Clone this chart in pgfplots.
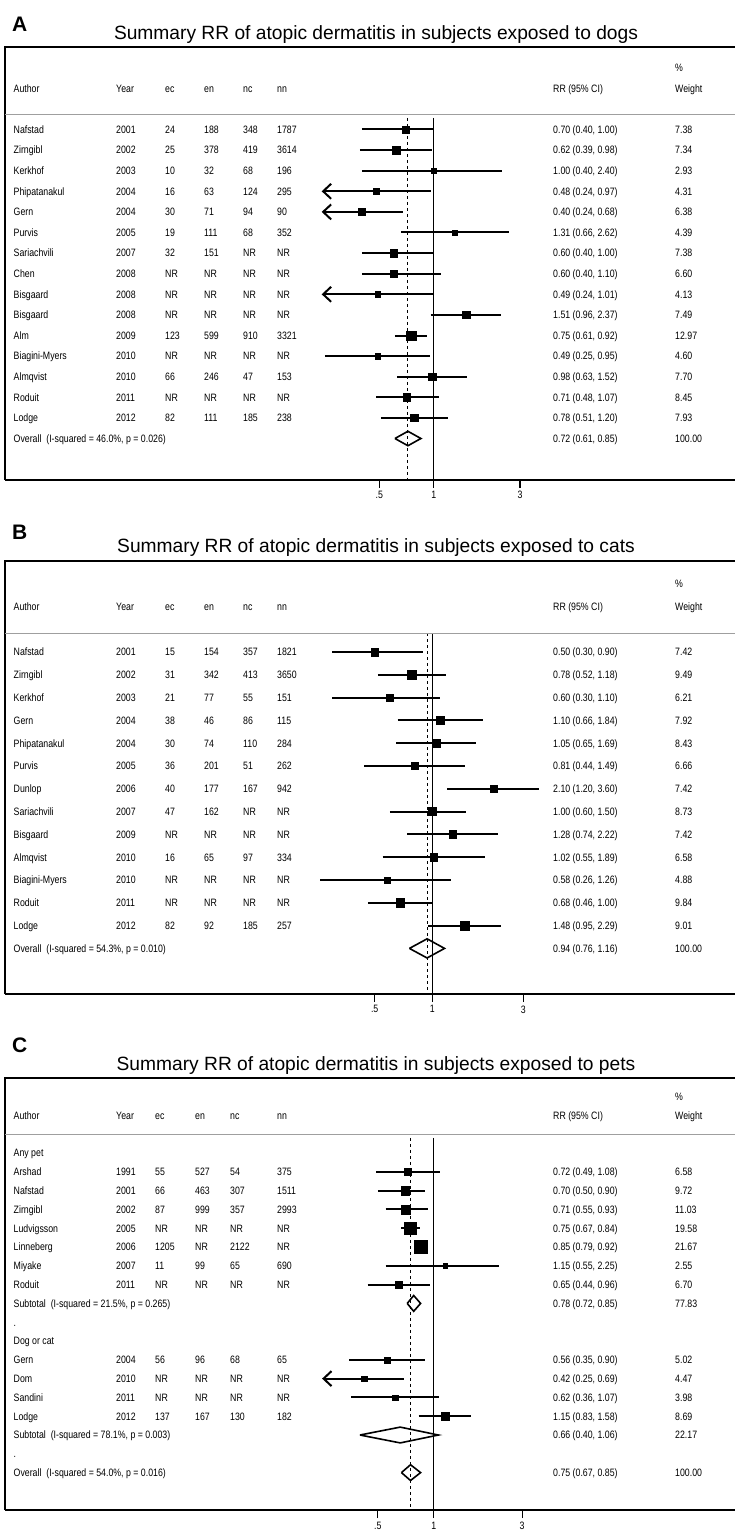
\documentclass[border=0pt]{standalone}
\usepackage{fontspec}
\setmainfont{Liberation Sans}
\newfontfamily\narrow[FakeStretch=0.82]{Liberation Sans}
\usepackage{pgfplots}
\pgfplotsset{compat=1.18}
\usepackage{pgfplotstable}
\usetikzlibrary{arrows.meta}

\newcommand\rowfont{\narrow\fontsize{10.7}{12}\selectfont}
\tikzset{rt/.style={anchor=base west, inner sep=0pt, font=\rowfont}}

\newcommand\setpanel[8]{\def\yf{#1}\def\ys{#2}\def\cA{#3}\def\cY{#4}\def\cEc{#5}\def\cEn{#6}\def\cNc{#7}\def\cNn{#8}}
\newcommand\TR[9]{%
  \pgfmathsetmacro\yyy{-(\yf+(#1)*\ys+3.8)}%
  \node[rt] at (\cA,\yyy) {#2};
  \node[rt] at (\cY,\yyy) {#3};
  \node[rt] at (\cEc,\yyy) {#4};
  \node[rt] at (\cEn,\yyy) {#5};
  \node[rt] at (\cNc,\yyy) {#6};
  \node[rt] at (\cNn,\yyy) {#7};
  \node[rt] at (553,\yyy) {#8};
  \node[rt] at (675,\yyy) {#9};}
\newcommand\Lb[4]{%
  \pgfmathsetmacro\yyy{-(\yf+(#1)*\ys+3.8)}%
  \node[rt] at (\cA,\yyy) {#2};
  \node[rt] at (553,\yyy) {#3};
  \node[rt] at (675,\yyy) {#4};}

% CI segments, arrows and diamonds drawn through the axis
\newcommand\myci[3]{\addplot[black, line width=2pt] coordinates {(#1,#3) (#2,#3)};}
\newcommand\myca[3]{\addplot[black, line width=2pt, arrows={{Straight Barb[length=8pt,width=15pt]}-}] coordinates {(#1,#3) (#2,#3)};}
\newcommand\mydm[6]{\addplot[black, line width=1.6pt, line join=miter] coordinates {(#1,#4) (#2,#5) (#3,#4) (#2,#6) (#1,#4)};}
\newcommand\myvl[3]{%
  \addplot[black, line width=1.2pt] coordinates {(1,#2) (1,#3)};
  \addplot[black, line width=0.9pt, dash pattern=on 3pt off 3pt] coordinates {(#1,#2) (#1,#3)};}
\newcommand\mysq[2]{%
  \addplot[only marks, mark=square*, black, scatter, point meta=\thisrow{w},
    scatter/use mapped color={draw=black, fill=black},
    visualization depends on={#2*sqrt(\thisrow{w}) \as \msz},
    scatter/@pre marker code/.append style={/tikz/mark size=\msz}]
    table[x=rr, y=y] {#1};}

% data: y = -row, rr, lo, hi, weight
\pgfplotstableread{
y rr lo hi w
0 0.70 0.40 1.00 7.38
-1 0.62 0.39 0.98 7.34
-2 1.00 0.40 2.40 2.93
-3 0.48 0.24 0.97 4.31
-4 0.40 0.24 0.68 6.38
-5 1.31 0.66 2.62 4.39
-6 0.60 0.40 1.00 7.38
-7 0.60 0.40 1.10 6.60
-8 0.49 0.24 1.01 4.13
-9 1.51 0.96 2.37 7.49
-10 0.75 0.61 0.92 12.97
-11 0.49 0.25 0.95 4.60
-12 0.98 0.63 1.52 7.70
-13 0.71 0.48 1.07 8.45
-14 0.78 0.51 1.20 7.93
}\tabA
\pgfplotstableread{
y rr lo hi w
0 0.50 0.30 0.90 7.42
-1 0.78 0.52 1.18 9.49
-2 0.60 0.30 1.10 6.21
-3 1.10 0.66 1.84 7.92
-4 1.05 0.65 1.69 8.43
-5 0.81 0.44 1.49 6.66
-6 2.10 1.20 3.60 7.42
-7 1.00 0.60 1.50 8.73
-8 1.28 0.74 2.22 7.42
-9 1.02 0.55 1.89 6.58
-10 0.58 0.26 1.26 4.88
-11 0.68 0.46 1.00 9.84
-12 1.48 0.95 2.29 9.01
}\tabB
\pgfplotstableread{
y rr lo hi w
-1 0.72 0.49 1.08 6.58
-2 0.70 0.50 0.90 9.72
-3 0.71 0.55 0.93 11.03
-4 0.75 0.67 0.84 19.58
-5 0.85 0.79 0.92 21.67
-6 1.15 0.55 2.25 2.55
-7 0.65 0.44 0.96 6.70
-11 0.56 0.35 0.90 5.02
-12 0.42 0.25 0.69 4.47
-13 0.62 0.36 1.07 3.98
-14 1.15 0.83 1.58 8.69
}\tabC

\begin{document}
\begin{tikzpicture}

%================ Panel A ================
\begin{semilogxaxis}[scale only axis, width=730pt, height=432.6pt,
  xmin=0.004249, xmax=46.43, ymin=-17, ymax=4,
  axis x line*=bottom, axis y line*=left,
  ytick=\empty, xtick={0.5,1,3}, xticklabels={.5,1,3},
  minor xtick={}, tick align=outside, major tick length=8pt,
  tick style={black, line width=1.1pt},
  x axis line style={line width=2pt},
  y axis line style={line width=1.2pt},
  xticklabel style={font=\rowfont, text=black},
  clip=false, at={(5pt,-47.1pt)}, anchor=north west]
  \myvl{0.72}{0.56}{-17}
  \myci{0.40}{1.00}{0}
  \myci{0.39}{0.98}{-1}
  \myci{0.40}{2.40}{-2}
  \myca{0.24}{0.97}{-3}
  \myca{0.24}{0.68}{-4}
  \myci{0.66}{2.62}{-5}
  \myci{0.40}{1.00}{-6}
  \myci{0.40}{1.10}{-7}
  \myca{0.24}{1.01}{-8}
  \myci{0.96}{2.37}{-9}
  \myci{0.61}{0.92}{-10}
  \myci{0.25}{0.95}{-11}
  \myci{0.63}{1.52}{-12}
  \myci{0.48}{1.07}{-13}
  \myci{0.51}{1.20}{-14}
  \mysq{\tabA}{1.33}
  \mydm{0.61}{0.72}{0.85}{-15}{-14.65}{-15.35}
\end{semilogxaxis}

%================ Panel B ================
\begin{semilogxaxis}[scale only axis, width=730pt, height=433.2pt,
  xmin=0.005817, xmax=38.40, ymin=-15, ymax=4,
  axis x line*=bottom, axis y line*=left,
  ytick=\empty, xtick={0.5,1,3}, xticklabels={.5,1,3},
  minor xtick={}, tick align=outside, major tick length=8pt,
  tick style={black, line width=1.1pt},
  x axis line style={line width=2pt},
  y axis line style={line width=1.2pt},
  xticklabel style={font=\rowfont, text=black},
  clip=false, at={(5pt,-560.8pt)}, anchor=north west]
  \myvl{0.94}{0.83}{-15}
  \myci{0.30}{0.90}{0}
  \myci{0.52}{1.18}{-1}
  \myci{0.30}{1.10}{-2}
  \myci{0.66}{1.84}{-3}
  \myci{0.65}{1.69}{-4}
  \myci{0.44}{1.49}{-5}
  \myci{1.20}{3.60}{-6}
  \myci{0.60}{1.50}{-7}
  \myci{0.74}{2.22}{-8}
  \myci{0.55}{1.89}{-9}
  \myci{0.26}{1.26}{-10}
  \myci{0.46}{1.00}{-11}
  \myci{0.95}{2.29}{-12}
  \mysq{\tabB}{1.38}
  \mydm{0.76}{0.94}{1.16}{-13}{-12.58}{-13.42}
\end{semilogxaxis}

%================ Panel C ================
\begin{semilogxaxis}[scale only axis, width=730pt, height=432.4pt,
  xmin=0.004868, xmax=42.22, ymin=-19, ymax=4,
  axis x line*=bottom, axis y line*=left,
  ytick=\empty, xtick={0.5,1,3}, xticklabels={.5,1,3},
  minor xtick={}, tick align=outside, major tick length=8pt,
  tick style={black, line width=1.1pt},
  x axis line style={line width=2pt},
  y axis line style={line width=1.2pt},
  xticklabel style={font=\rowfont, text=black},
  clip=false, at={(5pt,-1077.8pt)}, anchor=north west]
  \myvl{0.75}{0.8}{-19}
  \myci{0.49}{1.08}{-1}
  \myci{0.50}{0.90}{-2}
  \myci{0.55}{0.93}{-3}
  \myci{0.67}{0.84}{-4}
  \myci{0.79}{0.92}{-5}
  \myci{0.55}{2.25}{-6}
  \myci{0.44}{0.96}{-7}
  \myci{0.35}{0.90}{-11}
  \myca{0.25}{0.69}{-12}
  \myci{0.36}{1.07}{-13}
  \myci{0.83}{1.58}{-14}
  \mysq{\tabC}{1.36}
  \mydm{0.72}{0.78}{0.85}{-8}{-7.58}{-8.42}
  \mydm{0.40}{0.66}{1.06}{-15}{-14.58}{-15.42}
  \mydm{0.67}{0.75}{0.85}{-17}{-16.58}{-17.42}
\end{semilogxaxis}

\begin{scope}[x=1pt,y=1pt]
  % frames (top and header separators)
  \draw[line width=1.4pt] (4.4,-47.1) -- (735,-47.1);
  \draw[gray!75, line width=0.9pt] (5,-114) -- (735,-114);
  \draw[line width=1.4pt] (4.4,-560.8) -- (735,-560.8);
  \draw[gray!75, line width=0.9pt] (5,-633) -- (735,-633);
  \draw[line width=1.4pt] (4.4,-1077.8) -- (735,-1077.8);
  \draw[gray!75, line width=0.9pt] (5,-1134) -- (735,-1134);

  % titles and panel letters
  \node[anchor=base west, inner sep=0pt, font=\bfseries\fontsize{21}{24}\selectfont] at (12,-31.5) {A};
  \node[anchor=base, inner sep=0pt, font=\fontsize{19.2}{22}\selectfont] at (376,-39.5) {Summary RR of atopic dermatitis in subjects exposed to dogs};
  \node[anchor=base west, inner sep=0pt, font=\bfseries\fontsize{21}{24}\selectfont] at (12,-539.5) {B};
  \node[anchor=base, inner sep=0pt, font=\fontsize{19.2}{22}\selectfont] at (376,-552) {Summary RR of atopic dermatitis in subjects exposed to cats};
  \node[anchor=base west, inner sep=0pt, font=\bfseries\fontsize{21}{24}\selectfont] at (12,-1052.5) {C};
  \node[anchor=base, inner sep=0pt, font=\fontsize{19.2}{22}\selectfont] at (376,-1070) {Summary RR of atopic dermatitis in subjects exposed to pets};

  % ---- Panel A text ----
  \setpanel{129.5}{20.6}{13.5}{116}{165}{204}{243}{277}
  \Lb{-3}{}{}{\%}
  \TR{-2}{Author}{Year}{ec}{en}{nc}{nn}{RR (95\% CI)}{Weight}
  \TR{0}{Nafstad}{2001}{24}{188}{348}{1787}{0.70 (0.40, 1.00)}{7.38}
  \TR{1}{Zirngibl}{2002}{25}{378}{419}{3614}{0.62 (0.39, 0.98)}{7.34}
  \TR{2}{Kerkhof}{2003}{10}{32}{68}{196}{1.00 (0.40, 2.40)}{2.93}
  \TR{3}{Phipatanakul}{2004}{16}{63}{124}{295}{0.48 (0.24, 0.97)}{4.31}
  \TR{4}{Gern}{2004}{30}{71}{94}{90}{0.40 (0.24, 0.68)}{6.38}
  \TR{5}{Purvis}{2005}{19}{111}{68}{352}{1.31 (0.66, 2.62)}{4.39}
  \TR{6}{Sariachvili}{2007}{32}{151}{NR}{NR}{0.60 (0.40, 1.00)}{7.38}
  \TR{7}{Chen}{2008}{NR}{NR}{NR}{NR}{0.60 (0.40, 1.10)}{6.60}
  \TR{8}{Bisgaard}{2008}{NR}{NR}{NR}{NR}{0.49 (0.24, 1.01)}{4.13}
  \TR{9}{Bisgaard}{2008}{NR}{NR}{NR}{NR}{1.51 (0.96, 2.37)}{7.49}
  \TR{10}{Alm}{2009}{123}{599}{910}{3321}{0.75 (0.61, 0.92)}{12.97}
  \TR{11}{Biagini-Myers}{2010}{NR}{NR}{NR}{NR}{0.49 (0.25, 0.95)}{4.60}
  \TR{12}{Almqvist}{2010}{66}{246}{47}{153}{0.98 (0.63, 1.52)}{7.70}
  \TR{13}{Roduit}{2011}{NR}{NR}{NR}{NR}{0.71 (0.48, 1.07)}{8.45}
  \TR{14}{Lodge}{2012}{82}{111}{185}{238}{0.78 (0.51, 1.20)}{7.93}
  \Lb{15}{Overall\ \ (I-squared = 46.0\%, p = 0.026)}{0.72 (0.61, 0.85)}{100.00}

  % ---- Panel B text ----
  \setpanel{652}{22.8}{13.5}{116}{165}{204}{243}{277}
  \Lb{-3}{}{}{\%}
  \TR{-2}{Author}{Year}{ec}{en}{nc}{nn}{RR (95\% CI)}{Weight}
  \TR{0}{Nafstad}{2001}{15}{154}{357}{1821}{0.50 (0.30, 0.90)}{7.42}
  \TR{1}{Zirngibl}{2002}{31}{342}{413}{3650}{0.78 (0.52, 1.18)}{9.49}
  \TR{2}{Kerkhof}{2003}{21}{77}{55}{151}{0.60 (0.30, 1.10)}{6.21}
  \TR{3}{Gern}{2004}{38}{46}{86}{115}{1.10 (0.66, 1.84)}{7.92}
  \TR{4}{Phipatanakul}{2004}{30}{74}{110}{284}{1.05 (0.65, 1.69)}{8.43}
  \TR{5}{Purvis}{2005}{36}{201}{51}{262}{0.81 (0.44, 1.49)}{6.66}
  \TR{6}{Dunlop}{2006}{40}{177}{167}{942}{2.10 (1.20, 3.60)}{7.42}
  \TR{7}{Sariachvili}{2007}{47}{162}{NR}{NR}{1.00 (0.60, 1.50)}{8.73}
  \TR{8}{Bisgaard}{2009}{NR}{NR}{NR}{NR}{1.28 (0.74, 2.22)}{7.42}
  \TR{9}{Almqvist}{2010}{16}{65}{97}{334}{1.02 (0.55, 1.89)}{6.58}
  \TR{10}{Biagini-Myers}{2010}{NR}{NR}{NR}{NR}{0.58 (0.26, 1.26)}{4.88}
  \TR{11}{Roduit}{2011}{NR}{NR}{NR}{NR}{0.68 (0.46, 1.00)}{9.84}
  \TR{12}{Lodge}{2012}{82}{92}{185}{257}{1.48 (0.95, 2.29)}{9.01}
  \Lb{13}{Overall\ \ (I-squared = 54.3\%, p = 0.010)}{0.94 (0.76, 1.16)}{100.00}

  % ---- Panel C text ----
  \setpanel{1153}{18.8}{13.5}{116}{155}{195}{230}{277}
  \Lb{-3}{}{}{\%}
  \TR{-2}{Author}{Year}{ec}{en}{nc}{nn}{RR (95\% CI)}{Weight}
  \Lb{0}{Any pet}{}{}
  \TR{1}{Arshad}{1991}{55}{527}{54}{375}{0.72 (0.49, 1.08)}{6.58}
  \TR{2}{Nafstad}{2001}{66}{463}{307}{1511}{0.70 (0.50, 0.90)}{9.72}
  \TR{3}{Zirngibl}{2002}{87}{999}{357}{2993}{0.71 (0.55, 0.93)}{11.03}
  \TR{4}{Ludvigsson}{2005}{NR}{NR}{NR}{NR}{0.75 (0.67, 0.84)}{19.58}
  \TR{5}{Linneberg}{2006}{1205}{NR}{2122}{NR}{0.85 (0.79, 0.92)}{21.67}
  \TR{6}{Miyake}{2007}{11}{99}{65}{690}{1.15 (0.55, 2.25)}{2.55}
  \TR{7}{Roduit}{2011}{NR}{NR}{NR}{NR}{0.65 (0.44, 0.96)}{6.70}
  \Lb{8}{Subtotal\ \ (I-squared = 21.5\%, p = 0.265)}{0.78 (0.72, 0.85)}{77.83}
  \Lb{9}{.}{}{}
  \Lb{10}{Dog or cat}{}{}
  \TR{11}{Gern}{2004}{56}{96}{68}{65}{0.56 (0.35, 0.90)}{5.02}
  \TR{12}{Dom}{2010}{NR}{NR}{NR}{NR}{0.42 (0.25, 0.69)}{4.47}
  \TR{13}{Sandini}{2011}{NR}{NR}{NR}{NR}{0.62 (0.36, 1.07)}{3.98}
  \TR{14}{Lodge}{2012}{137}{167}{130}{182}{1.15 (0.83, 1.58)}{8.69}
  \Lb{15}{Subtotal\ \ (I-squared = 78.1\%, p = 0.003)}{0.66 (0.40, 1.06)}{22.17}
  \Lb{16}{.}{}{}
  \Lb{17}{Overall\ \ (I-squared = 54.0\%, p = 0.016)}{0.75 (0.67, 0.85)}{100.00}

  \pgfresetboundingbox
  \path[use as bounding box] (0,0) rectangle (735,-1530);
\end{scope}
\end{tikzpicture}
\end{document}
